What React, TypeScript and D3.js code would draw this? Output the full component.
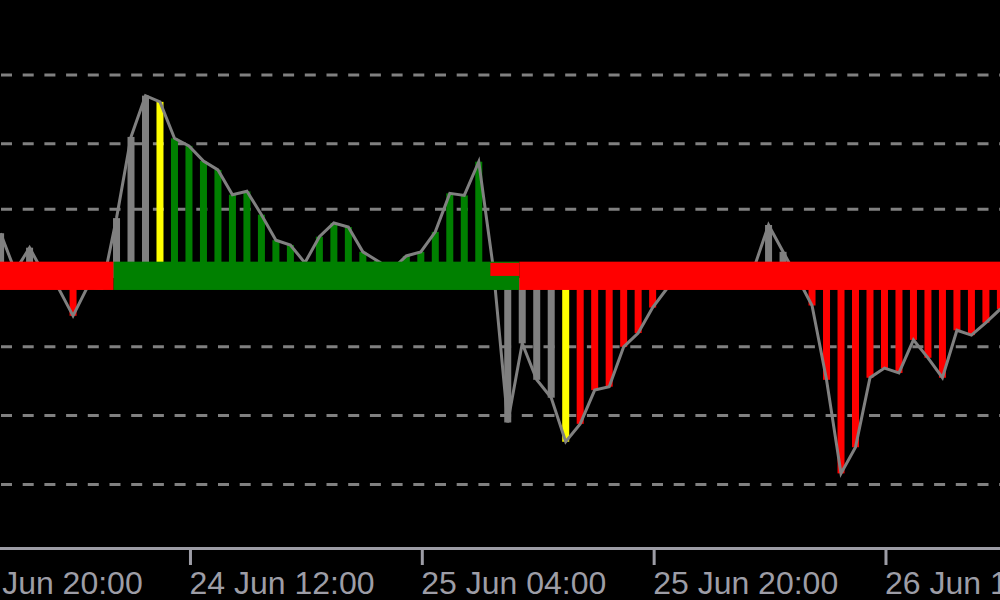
import React from 'react';
import * as d3 from 'd3';

// Indicator values per hourly bar (index 0 = 23 Jun 23:00)
const values: number[] = [
  0.65, 0.1, 0.44, 0.05, -0.15, -0.55, -0.13, -0.15, 0.87, 2.05,
  2.65, 2.56, 2.03, 1.92, 1.7, 1.57, 1.21, 1.26, 0.92, 0.55,
  0.48, 0.22, 0.6, 0.8, 0.74, 0.38, 0.25, 0.12, 0.32, 0.38,
  0.67, 1.23, 1.2, 1.69, 0.15, -2.1, -0.95, -1.48, -1.74, -2.38,
  -2.12, -1.63, -1.58, -1.0, -0.8, -0.43, -0.15, -0.05, 0.05, 0.1,
  0.05, 0.1, 0.15, 0.77, 0.38, 0.0, -0.4, -1.48, -2.84, -2.46,
  -1.45, -1.31, -1.38, -0.9, -1.16, -1.45, -0.76, -0.83, -0.65, -0.45,
];

// Histogram colour state per bar
const barStates: string[] = [
  'gray', 'gray', 'gray', 'gray', 'red', 'red', 'red', 'red', 'gray', 'gray',
  'gray', 'yellow', 'green', 'green', 'green', 'green', 'green', 'green', 'green', 'green',
  'green', 'green', 'green', 'green', 'green', 'green', 'green', 'green', 'green', 'green',
  'green', 'green', 'green', 'green', 'green', 'gray', 'gray', 'gray', 'gray', 'yellow',
  'red', 'red', 'red', 'red', 'red', 'red', 'red', 'red', 'red', 'red',
  'red', 'red', 'red', 'gray', 'gray', 'red', 'red', 'red', 'red', 'red',
  'red', 'red', 'red', 'red', 'red', 'red', 'red', 'red', 'red', 'red',
];

// Trend band segments (bar-index ranges)
const bandFrom: number[] = [-2, 7.8, 35.8, 33.8];
const bandTo: number[] = [7.8, 35.8, 71, 35.8];
const bandState: string[] = ['red', 'green', 'red', 'red'];
const bandTopValue: number[] = [0.237, 0.237, 0.237, 0.22];
const bandBottomValue: number[] = [-0.174, -0.174, -0.174, 0.03];

const tickIndex: number[] = [-3, 13, 29, 45, 61];
const tickLabels: string[] = ['23 Jun 20:00', '24 Jun 12:00', '25 Jun 04:00', '25 Jun 20:00', '26 Jun 12:00'];
const gridValues: number[] = [2.95, 1.95, 1, -1, -2, -3];

const palette: Record<string, string> = {
  gray: '#808080',
  green: '#008000',
  red: '#ff0000',
  yellow: '#ffff00',
};

export default function App() {
  const W = 1000;
  const H = 600;
  const x = d3.scaleLinear().domain([0, 69]).range([0.6, 1000.4]);
  const y = d3.scaleLinear().domain([-4.68, 4.04]).range([H, 0]);
  const barW = 7;
  const linePath = d3
    .line<number>()
    .x((_, i) => x(i))
    .y((d) => y(d))(values) as string;
  const axisY = 548.5;
  const fg = '#9d9da6';

  return (
    <svg
      width={W}
      height={H}
      style={{ position: 'absolute', left: 0, top: 0, display: 'block', background: '#000' }}
    >
      <rect x={0} y={0} width={W} height={H} fill="#000" />
      {gridValues.map((g, i) => (
        <line
          key={'g' + i}
          x1={1}
          x2={W}
          y1={y(g)}
          y2={y(g)}
          stroke="#808080"
          strokeWidth={3}
          strokeDasharray="11 10.7"
        />
      ))}
      {values.map((v, i) => (
        <rect
          key={'b' + i}
          x={x(i) - barW / 2}
          width={barW}
          y={Math.min(y(0), y(v))}
          height={Math.abs(y(v) - y(0))}
          fill={palette[barStates[i]]}
        />
      ))}
      <path d={linePath} fill="none" stroke="#808080" strokeWidth={3} strokeLinejoin="miter" />
      {bandFrom.map((f, i) => (
        <rect
          key={'band' + i}
          x={x(f)}
          width={x(bandTo[i]) - x(f)}
          y={y(bandTopValue[i])}
          height={y(bandBottomValue[i]) - y(bandTopValue[i])}
          fill={palette[bandState[i]]}
        />
      ))}
      <line x1={0} x2={W} y1={axisY} y2={axisY} stroke={fg} strokeWidth={3} />
      {tickIndex.map((t, i) => (
        <g key={'t' + i}>
          <line x1={x(t) + 1.5} x2={x(t) + 1.5} y1={axisY} y2={565} stroke={fg} strokeWidth={3} />
          <text
            x={x(t) + 0.5}
            y={594}
            fill={fg}
            fontSize={32}
            fontFamily="'Liberation Sans', Arial, sans-serif"
          >
            {tickLabels[i]}
          </text>
        </g>
      ))}
    </svg>
  );
}
